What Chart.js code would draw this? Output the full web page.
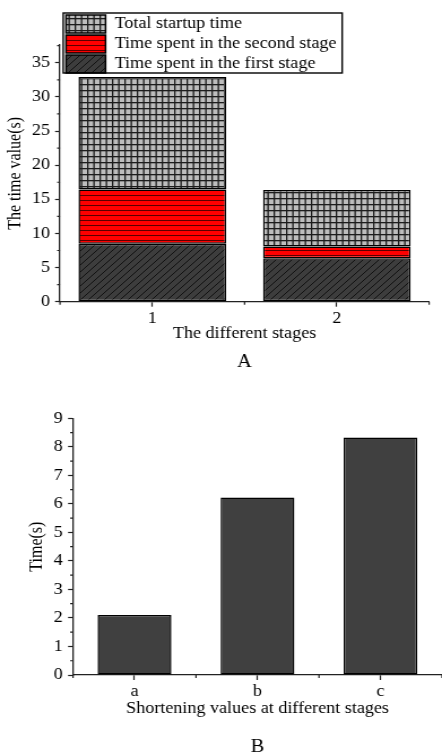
<!DOCTYPE html>
<html>
<head>
<meta charset="utf-8">
<script src="https://cdn.jsdelivr.net/npm/chart.js@4.4.0/dist/chart.umd.min.js"></script>
<style>
  html, body { margin: 0; padding: 0; background: #fff; }
  canvas { display: block; }
</style>
</head>
<body>
<!-- the source figure is a little wider than tall, so the canvases are drawn narrow and shown at 442px -->
<canvas id="chartA" width="391" height="376" style="width:442px;height:376px"></canvas>
<canvas id="chartB" width="391" height="380" style="width:442px;height:380px"></canvas>
<script>
// Data of chart A
const stagesA = ['1', '2'];
const firstStage = [8.5, 6.35];
const secondStage = [7.95, 1.73];
const totalStartup = [16.45, 8.27];
const yTicksA = [0, 5, 10, 15, 20, 25, 30, 35];
const yMinorA = [2.5, 7.5, 12.5, 17.5, 22.5, 27.5, 32.5, 37.5];

// Data of chart B
const stagesB = ['a', 'b', 'c'];
const shortening = [2.1, 6.22, 8.33];
const yTicksB = [0, 1, 2, 3, 4, 5, 6, 7, 8, 9];
const yMinorB = [0.5, 1.5, 2.5, 3.5, 4.5, 5.5, 6.5, 7.5, 8.5];

Chart.defaults.font.family = '"Liberation Serif", "Times New Roman", serif';
Chart.defaults.font.size = 16;
Chart.defaults.color = '#000';

// Function to build a repeating fill pattern
function makePattern(w, h, draw) {
  const c = document.createElement('canvas');
  c.width = w;
  c.height = h;
  const g = c.getContext('2d');
  draw(g, w, h);
  return g.createPattern(c, 'repeat');
}

const gridFill = makePattern(11, 6, (g, w, h) => {
  g.fillStyle = '#bdbdbd';
  g.fillRect(0, 0, w, h);
  g.fillStyle = '#1c1c1c';
  g.fillRect(0, 0, 1.3, h);
  g.fillRect(5.5, 0, 1.3, h);
  g.fillRect(0, 0, w, 1.3);
});

const redFill = makePattern(4, 5, (g, w, h) => {
  g.fillStyle = '#ff0000';
  g.fillRect(0, 0, w, h);
  g.fillStyle = '#5a0000';
  g.fillRect(0, 0, w, 1);
});

const hatchFill = makePattern(7, 7, (g, w, h) => {
  g.fillStyle = '#3d3d3d';
  g.fillRect(0, 0, w, h);
  g.strokeStyle = '#111';
  g.lineWidth = 1;
  g.beginPath();
  g.moveTo(0, h); g.lineTo(w, 0);
  g.moveTo(-1, 1); g.lineTo(1, -1);
  g.moveTo(w - 1, h + 1); g.lineTo(w + 1, h - 1);
  g.stroke();
});

// Plugin to draw the short minor ticks on both axes
const minorTicks = {
  id: 'minorTicks',
  afterDraw(chart, args, opts) {
    const {ctx, scales: {x, y}} = chart;
    ctx.save();
    ctx.strokeStyle = '#222';
    ctx.lineWidth = 1.2;
    ctx.beginPath();
    opts.y.forEach(v => {
      const py = y.getPixelForValue(v);
      ctx.moveTo(y.right, py);
      ctx.lineTo(y.right - 2.6, py);
    });
    for (let i = 0; i <= x.ticks.length; i++) {
      const px = x.getPixelForValue(i - 0.5);
      ctx.moveTo(px, x.top);
      ctx.lineTo(px, x.top + 3);
    }
    ctx.stroke();
    ctx.restore();
  }
};

// Plugin to move the legend up over the plot and draw its frame
const legendFrame = {
  id: 'legendFrame',
  afterLayout(chart, args, opts) {
    const legend = chart.legend;
    legend.left = opts.left;
    legend.top = opts.top;
    legend.right = legend.left + legend.width;
    legend.bottom = legend.top + legend.height;
  },
  afterDraw(chart) {
    const {ctx, legend} = chart;
    ctx.save();
    ctx.strokeStyle = '#000';
    ctx.lineWidth = 1.4;
    ctx.strokeRect(legend.left - 0.5, legend.top, legend.width - 4.5, legend.columnSizes[0].height);
    ctx.restore();
  }
};

// Function to build a value axis
function valueAxis(title, max, ticks, width, titlePad, tickPad) {
  return {
    min: 0,
    max: max,
    afterBuildTicks: scale => { scale.ticks = ticks.map(v => ({value: v})); },
    afterFit: scale => { scale.width = width; },
    ticks: {padding: tickPad, color: '#000'},
    grid: {drawOnChartArea: false, tickLength: 4.4, color: '#222', tickWidth: 1.2},
    border: {color: '#222', width: 1.3},
    title: {display: true, text: title, padding: {top: titlePad, bottom: 0}}
  };
}

// Function to build a category axis
function categoryAxis(title, height, titlePad, stacked) {
  return {
    stacked: stacked,
    afterFit: scale => { scale.height = height; },
    ticks: {padding: 2, color: '#000'},
    grid: {offset: false, drawOnChartArea: false, tickLength: 5, color: '#222', tickWidth: 1.2},
    border: {color: '#222', width: 1.3},
    title: {display: true, text: title, padding: {top: 0, bottom: titlePad}}
  };
}

// Function to build the panel letter under the chart
function panelTitle(text) {
  return {
    display: true,
    text: text,
    position: 'bottom',
    fullSize: false,
    padding: 0,
    color: '#000',
    font: {size: 18, weight: 'normal', lineHeight: 0.9}
  };
}

const yAxisA = valueAxis('The time value(s)', 37.6, yTicksA, 53.1, 4.6, 4.5);
yAxisA.stacked = true;

new Chart(document.getElementById('chartA'), {
  type: 'bar',
  data: {
    labels: stagesA,
    datasets: [
      {label: 'Time spent in the first stage', data: firstStage, backgroundColor: hatchFill},
      {label: 'Time spent in the second stage', data: secondStage, backgroundColor: redFill},
      {label: 'Total startup time', data: totalStartup, backgroundColor: gridFill}
    ]
  },
  options: {
    responsive: false,
    animation: false,
    events: [],
    layout: {padding: {top: 45, left: 0, right: 11.4, bottom: 5.9}},
    datasets: {
      bar: {barPercentage: 0.8, categoryPercentage: 1, borderColor: '#000', borderWidth: 1.5, borderSkipped: false}
    },
    scales: {
      x: categoryAxis('The different stages', 52.2, 10.3, true),
      y: yAxisA
    },
    plugins: {
      legend: {
        position: 'chartArea',
        align: 'start',
        reverse: true,
        labels: {boxWidth: 35, boxHeight: 18, padding: 2, color: '#000'}
      },
      legendFrame: {left: 56.4, top: 13},
      minorTicks: {y: yMinorA},
      title: panelTitle('A'),
      tooltip: {enabled: false}
    }
  },
  plugins: [minorTicks, legendFrame]
});

new Chart(document.getElementById('chartB'), {
  type: 'bar',
  data: {
    labels: stagesB,
    datasets: [
      {label: 'Time(s)', data: shortening, backgroundColor: '#404040', borderColor: '#000', borderWidth: 1.5, borderSkipped: false}
    ]
  },
  options: {
    responsive: false,
    animation: false,
    events: [],
    layout: {padding: {top: 42.3, left: 0, right: 0, bottom: 0.2}},
    datasets: {
      bar: {barPercentage: 0.6, categoryPercentage: 1}
    },
    scales: {
      x: categoryAxis('Shortening values at different stages', 64.6, 21, false),
      y: valueAxis('Time(s)', 9, yTicksB, 64.6, 23.1, 4.7)
    },
    plugins: {
      legend: {display: false},
      minorTicks: {y: yMinorB},
      title: panelTitle('B'),
      tooltip: {enabled: false}
    }
  },
  plugins: [minorTicks]
});
</script>
</body>
</html>
